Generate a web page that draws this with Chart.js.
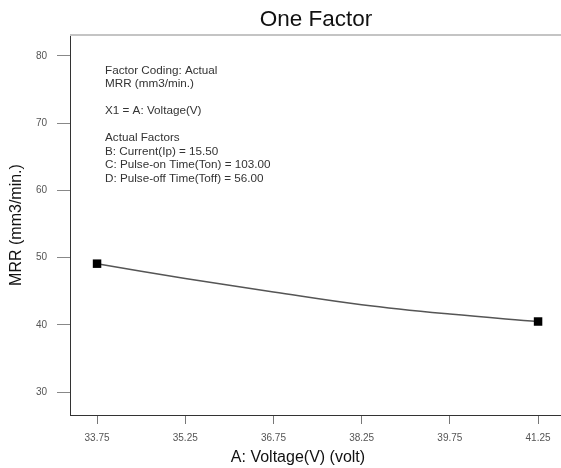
<!DOCTYPE html>
<html>
<head>
  <meta charset="utf-8">
  <title>One Factor</title>
  <script src="https://cdn.jsdelivr.net/npm/chart.js"></script>
  <style>
    body { margin: 0; background: #fff; }
    #wrap { width: 561px; height: 468px; }
  </style>
</head>
<body>
<div id="wrap"><canvas id="chart" width="561" height="468"></canvas></div>
<script>
// values
const voltage = [33.75, 35.25, 36.75, 38.25, 39.75, 41.25];
const mrr = [49.1, 46.9, 44.9, 43.0, 41.6, 40.5];
const xTicks = [33.75, 35.25, 36.75, 38.25, 39.75, 41.25];
const yTicks = [30, 40, 50, 60, 70, 80];
const notes = [
  'Factor Coding: Actual',
  'MRR (mm3/min.)',
  '',
  'X1 = A: Voltage(V)',
  '',
  'Actual Factors',
  'B: Current(Ip) = 15.50',
  'C: Pulse-on Time(Ton) = 103.00',
  'D: Pulse-off Time(Toff) = 56.00'
];
const chartTitle = 'One Factor';
const xTitle = 'A: Voltage(V) (volt)';
const yTitle = 'MRR (mm3/min.)';

const FONT = 'Arial, "Liberation Sans", sans-serif';

// titles, factor text block and the light top border
const extras = {
  id: 'extras',
  afterDraw(chart) {
    const ctx = chart.ctx, a = chart.chartArea;
    ctx.save();
    ctx.strokeStyle = '#c4c4c4';
    ctx.lineWidth = 2;
    ctx.beginPath();
    ctx.moveTo(a.left, a.top);
    ctx.lineTo(a.right, a.top);
    ctx.stroke();

    ctx.fillStyle = '#111';
    ctx.textAlign = 'center';
    ctx.textBaseline = 'middle';
    ctx.font = '22.5px ' + FONT;
    ctx.fillText(chartTitle, 316, 20);
    ctx.font = '16px ' + FONT;
    ctx.fillText(xTitle, 298, 458);

    ctx.fillStyle = '#333';
    ctx.textAlign = 'left';
    ctx.font = '11.7px ' + FONT;
    let y = 70.5;
    notes.forEach(t => {
      if (t) ctx.fillText(t, 105, y);
      y += 13.5;
    });
    ctx.restore();
  }
};

new Chart(document.getElementById('chart'), {
  type: 'line',
  data: {
    datasets: [{
      data: voltage.map((v, i) => ({x: v, y: mrr[i]})),
      borderColor: '#555',
      borderWidth: 1.5,
      tension: 0.4,
      pointStyle: 'rect',
      pointRadius: voltage.map((v, i) => (i === 0 || i === voltage.length - 1) ? 6 : 0),
      pointBackgroundColor: '#000',
      pointBorderColor: '#000',
      pointBorderWidth: 0
    }]
  },
  options: {
    responsive: false,
    animation: false,
    layout: { autoPadding: false, padding: { top: 35, right: 0, bottom: 0, left: 0 } },
    plugins: {
      legend: { display: false },
      tooltip: { enabled: false },
      title: { display: false }
    },
    scales: {
      x: {
        type: 'linear',
        min: 33.29,
        max: 41.64,
        afterBuildTicks: s => { s.ticks = xTicks.map(v => ({value: v})); },
        afterFit: s => { s.height = 53; s.paddingLeft = 0; s.paddingRight = 0; },
        ticks: {
          color: '#555',
          font: { family: FONT, size: 10 },
          padding: 8,
          callback: v => v.toFixed(2)
        },
        grid: { drawOnChartArea: false, drawTicks: true, tickLength: 9, color: '#777' },
        border: { display: true, color: '#333', width: 1 }
      },
      y: {
        min: 26.6,
        max: 83.1,
        afterBuildTicks: s => { s.ticks = yTicks.map(v => ({value: v})); },
        afterFit: s => { s.width = 70; s.paddingTop = 0; s.paddingBottom = 0; },
        ticks: {
          color: '#555',
          font: { family: FONT, size: 10 },
          padding: 10
        },
        grid: { drawOnChartArea: false, drawTicks: true, tickLength: 13, color: '#888' },
        border: { display: true, color: '#333', width: 1 },
        title: {
          display: true,
          text: yTitle,
          color: '#111',
          font: { family: FONT, size: 16 },
          padding: { top: 7, bottom: 0 }
        }
      }
    }
  },
  plugins: [extras]
});
</script>
</body>
</html>
